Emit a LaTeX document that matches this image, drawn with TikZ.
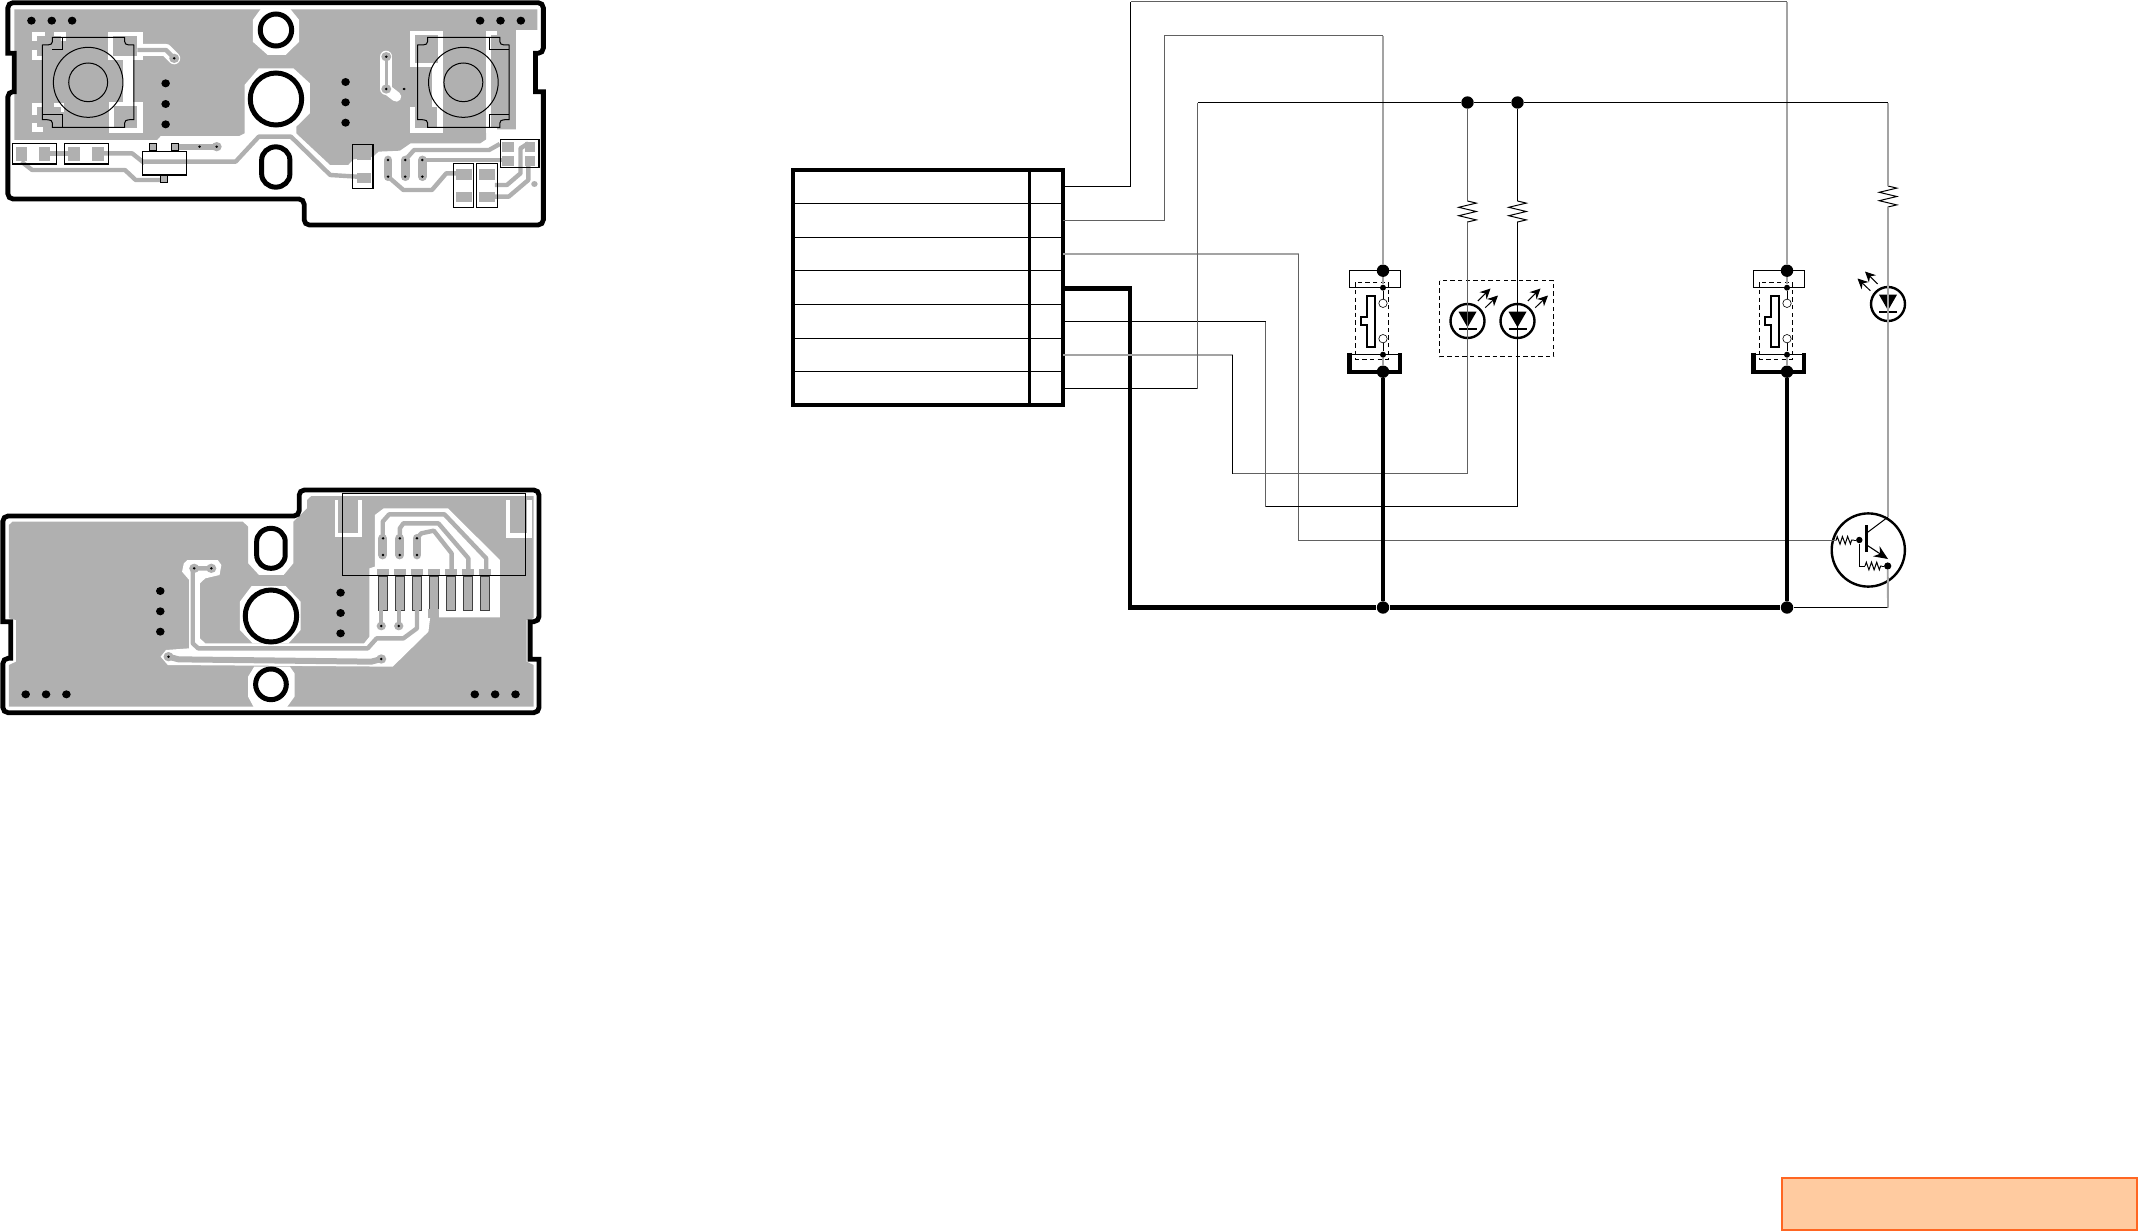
\documentclass[tikz,border=0pt]{standalone}
\usetikzlibrary{arrows.meta,decorations.pathmorphing}
\definecolor{pcbgray}{HTML}{B0B0B0}
\definecolor{tagedge}{HTML}{FF6622}
\definecolor{tagfill}{HTML}{FFCBA0}
\tikzset{
	wire/.style={line width=.5pt},
	midwire/.style={line width=.55pt,draw=black!62},
	palewire/.style={line width=.95pt,draw=black!36},
	heavywire/.style={line width=2.3pt},
	bigdot/.style={circle,fill,inner sep=0pt,minimum size=6.2pt},
	smalldot/.style={circle,fill,inner sep=0pt,minimum size=3pt},
	opendot/.style={circle,draw,fill=white,line width=.3pt,inner sep=0pt,minimum size=4.2pt},
	resist/.style={decorate,decoration={zigzag,amplitude=4.4pt,segment length=4.2pt}},
	tinyresist/.style={decorate,decoration={zigzag,amplitude=1.9pt,segment length=2.6pt}},
	dashbox/.style={line width=.4pt,dash pattern=on 2.2pt off 1.6pt},
	lightrays/.style={line width=.5pt,-{Stealth[length=5.2pt,width=5pt]}},
	edgeline/.style={line width=2.4pt,rounded corners=2.6pt},
	ringline/.style={line width=2.5pt},
	trace/.style={draw=pcbgray,line width=2.2pt,line join=round},
	capsule/.style={draw=pcbgray,line width=4.4pt,line cap=round},
	halo/.style={draw=white,line width=6pt,line join=round,line cap=round},
	partbox/.style={line width=.6pt},
	pinbox/.style={line width=.5pt,draw=black!75,fill=pcbgray},
	slideswitch/.pic={
		\draw[line width=.4pt] (-33.7,0) rectangle (17,17);
		\draw[dashbox] (-27.3,11.6) rectangle (5.3,88.6);
		\node (-top) at (0,0) [bigdot]{};
		\node (-upper) at (0,17) [smalldot]{};
		\node (-lower) at (0,84) [smalldot]{};
		\node (-openup) at (0,32.6) [opendot]{};
		\node (-opendown) at (0,68) [opendot]{};
		\draw[wire] (-upper) -- (-openup);
		\draw[wire] (-opendown) -- (-lower);
		\draw[line width=1.1pt,fill=white] (-16.3,25) -- (-8,25) -- (-8,76.3) -- (-16.3,76.3) -- (-16.3,54.6) -- (-22.3,54.6) -- (-22.3,46.3) -- (-16.3,46.3) -- cycle;
		\draw[line width=.4pt] (-33.7,84) -- (17,84);
		\draw[line width=2.2pt] (-33.7,82) -- (-33.7,101.3) -- (17,101.3) -- (17,82);
		\node (-base) at (0,101) [bigdot]{};
	},
	lampsym/.pic={
		\draw[line width=1.2pt] (0,0) circle (17);
		\fill (-9,-9.3) -- (9,-9.3) -- (0,6.3) -- cycle;
		\draw[line width=1pt] (-9,8.3) -- (9,8.3);
		\draw[lightrays] (10.3,-20) -- (23,-32.5);
		\draw[lightrays] (17.7,-13.3) -- (30.5,-25.5);
	},
	tactsym/.pic={
		\draw[line width=.5pt] (-100,-135) -- (102,-135) .. controls (102,-112) .. (128,-112) -- (128,112) .. controls (102,112) .. (102,135) -- (-100,135) .. controls (-100,112) .. (-128,112) -- (-128,-112) .. controls (-100,-112) .. (-100,-135) -- cycle;
		\draw[line width=.5pt] (0,0) ellipse (97.5 and 105);
		\draw[line width=.5pt] (0,0) ellipse (54.5 and 58);
	}
}
\begin{document}
\begin{tikzpicture}[x=0.5pt,y=-0.5pt]
	\useasboundingbox (0,0) rectangle (2138,1231);

	% upper board
	\begin{scope}[xscale=.357,yscale=1/3]
		\fill[pcbgray] (40,28) -- (1505,28) -- (1505,90) -- (1445,90) -- (1445,388) -- (1362,388) -- (1362,418) -- (1345,430) -- (1150,430) -- (1120,452) -- (1060,455) -- (1045,470) -- (990,478) -- (975,495) -- (925,495) -- (830,400) -- (685,400) -- (670,408) -- (450,408) -- (440,420) -- (40,420) -- cycle;
		\fill[white] (735,20) -- (808,20) -- (838,60) -- (838,125) -- (800,165) -- (750,165) -- (708,125) -- (708,60) -- cycle;
		\fill[white] (725,205) -- (822,205) -- (868,250) -- (868,340) -- (830,380) -- (830,402) -- (685,402) -- (685,255) -- cycle;
		% left switch pads
		\foreach \xa/\ya/\xb/\yb in {90/95/125/122, 150/95/185/122, 90/150/118/180, 90/310/118/345, 90/370/120/395, 150/310/180/335, 303/95/400/180, 305/305/400/398, 345/170/372/320}{
			\fill[white] (\xa,\ya) rectangle (\xb,\yb);
		}
		\foreach \xa/\ya/\xb/\yb in {105/108/125/122, 150/108/170/122, 105/150/118/168, 105/322/118/345, 105/370/120/382, 150/322/170/335, 316/108/385/168, 318/318/385/385}{
			\fill[pcbgray] (\xa,\ya) rectangle (\xb,\yb);
		}
		\draw[halo] (400,150) -- (465,150) -- (488,175);
		\draw[trace] (385,150) -- (465,150) -- (488,175);
		\fill[pcbgray] (488,175) circle (14);
		% right switch pads
		\foreach \xa/\ya/\xb/\yb in {1148/92/1242/200, 1148/320/1240/398, 1210/190/1240/320, 1360/92/1374/398, 1374/92/1392/105, 1374/385/1392/398}{
			\fill[white] (\xa,\ya) rectangle (\xb,\yb);
		}
		\foreach \xa/\ya/\xb/\yb in {1162/105/1228/190, 1162/320/1225/385, 1374/105/1445/175, 1374/320/1445/385}{
			\fill[pcbgray] (\xa,\ya) rectangle (\xb,\yb);
		}
		\draw[halo] (1082,170) -- (1082,267);
		\draw[halo,line width=5pt] (1082,267) -- (1110,290);
		\draw[trace,line width=1.4pt] (1082,170) -- (1082,267);
		\draw[trace] (1132,267) -- (1190,267);
		\fill[pcbgray] (1082,170) circle (14);
		\fill[pcbgray] (1082,267) circle (14);
		\fill[pcbgray] (1132,267) circle (14);
		% traces below the pads
		\draw[trace] (400,485) -- (660,485) -- (725,410) -- (815,410) -- (925,525) -- (1000,530);
		\draw[trace] (140,460) -- (190,460);
		\draw[trace] (290,460) -- (370,460) -- (405,490);
		\draw[trace] (60,485) -- (90,510) -- (350,510) -- (380,540) -- (460,540);
		\draw[trace,line width=3pt] (500,440) -- (610,440);
		\fill[pcbgray] (607,440) circle (14);
		\draw[capsule] (1087,480) -- (1087,530);
		\draw[capsule] (1135,480) -- (1135,530);
		\draw[capsule] (1183,480) -- (1183,530);
		\draw[trace] (1135,480) -- (1160,450) -- (1370,450) -- (1400,432);
		\draw[trace] (1183,480) -- (1420,480);
		\draw[trace] (1087,530) -- (1130,570) -- (1210,570) -- (1250,520) -- (1300,520);
		\draw[trace] (1386,590) -- (1425,590) -- (1480,540) -- (1480,480);
		\draw[trace] (1386,555) -- (1420,555) -- (1458,520) -- (1458,445) -- (1480,430);
		\fill[pcbgray] (1497,552) circle (9);
		\foreach \xa/\ya/\xb/\yb in {45/440/75/482, 108/440/140/482, 190/440/225/482, 258/440/290/482, 1000/450/1040/480, 1000/518/1040/548, 1278/508/1322/540, 1278/575/1322/607, 1342/508/1386/540, 1342/575/1386/607, 1405/425/1440/455, 1405/468/1440/498, 1470/425/1500/455, 1470/468/1500/498}{
			\fill[pcbgray] (\xa,\ya) rectangle (\xb,\yb);
		}
		% part outlines
		\foreach \xa/\ya/\xb/\yb in {36/431/158/492, 181/431/303/492, 400/455/522/525, 988/433/1045/565, 1270/490/1326/622, 1334/490/1393/622, 1402/418/1510/502}{
			\draw[partbox] (\xa,\ya) rectangle (\xb,\yb);
		}
		\foreach \xa/\ya in {418/430, 480/430, 450/525}{
			\draw[partbox,fill=pcbgray] (\xa,\ya) rectangle +(20,22);
		}
		\pic[transform shape] at (247,247) {tactsym};
		\pic[transform shape] at (1298,247) {tactsym};
		\draw[line width=.5pt] (147,150) -- (175,150) -- (175,112);
		\draw[line width=.5pt] (120,345) -- (175,345) -- (175,382);
		\draw[line width=.5pt] (1372,112) -- (1372,150) -- (1425,150);
		\draw[line width=.5pt] (1372,382) -- (1372,345) -- (1425,345);
		% holes
		\foreach \x/\y in {88/62, 145/62, 202/62, 1345/62, 1402/62, 1459/62, 464/250, 464/312, 464/373, 968/246, 968/307, 968/368}{
			\fill (\x,\y) circle (12);
		}
		\foreach \x/\y in {488/175, 559/440, 607/440, 1082/170, 1082/267, 1132/267, 1087/480, 1087/530, 1135/480, 1135/530, 1183/480, 1183/530}{
			\fill (\x,\y) circle (4);
		}
		\draw[ringline] (773,90) ellipse (44 and 48);
		\draw[ringline] (773,297) ellipse (72 and 78);
		\draw[ringline] (733,480) arc (180:360:39.5) -- (812,522) arc (0:180:39.5) -- cycle;
		% outline
		\draw[edgeline] (22,8) -- (1522,8) -- (1522,160) [sharp corners] -- (1500,160) -- (1500,275) -- (1522,275) [rounded corners=2.6pt] -- (1522,675) -- (852,675) -- (852,597) -- (22,597) -- (22,275) [sharp corners] -- (40,275) -- (40,160) -- (22,160) [rounded corners=2.6pt] -- cycle;
	\end{scope}

	% lower board
	\begin{scope}[shift={(0,480)},xscale=.357,yscale=1/3]
		\fill[pcbgray] (25,135) -- (35,125) -- (680,125) -- (695,140) -- (695,250) -- (725,285) -- (795,285) -- (822,250) -- (822,125) -- (860,85) -- (860,60) -- (872,48) -- (1495,48) -- (1495,415) -- (1475,420) -- (1475,545) -- (1495,555) -- (1495,680) -- (25,680) -- (25,555) -- (45,545) -- (45,420) -- (25,415) -- cycle;
		\fill[white] (705,318) -- (800,318) -- (842,365) -- (842,450) -- (808,490) -- (708,490) -- (672,450) -- (672,365) -- cycle;
		\fill[white] (712,684) -- (695,650) -- (695,590) -- (712,560) -- (812,560) -- (825,580) -- (825,650) -- (802,684) -- cycle;
		\fill[white] (515,250) -- (525,240) -- (610,240) -- (620,255) -- (615,285) -- (575,295) -- (560,310) -- (560,475) -- (575,490) -- (1020,490) -- (1035,470) -- (1035,265) -- (1050,260) -- (1050,105) -- (1075,85) -- (1255,85) -- (1400,240) -- (1400,412) -- (1205,412) -- (1200,455) -- (1100,560) -- (470,555) -- (450,530) -- (465,510) -- (530,505) -- (530,300) -- (510,275) -- cycle;
		\fill[white] (938,60) rectangle (1015,170);
		\fill[white] (1418,60) rectangle (1490,175);
		\fill[pcbgray] (948,60) rectangle (1003,160);
		\fill[pcbgray] (1428,60) rectangle (1475,160);
		\draw[trace] (1072,175) -- (1072,125) -- (1090,103) -- (1245,103) -- (1362,235) -- (1362,270);
		\draw[trace] (1120,175) -- (1120,145) -- (1130,130) -- (1228,130) -- (1312,235) -- (1312,270);
		\draw[trace] (1168,175) -- (1180,160) -- (1215,152) -- (1265,220) -- (1265,270);
		\draw[capsule] (1072,175) -- (1072,225);
		\draw[capsule] (1120,175) -- (1120,225);
		\draw[capsule] (1168,175) -- (1168,225);
		\foreach \x in {1072, 1120, 1168, 1215, 1263, 1310, 1358}{
			\fill[pcbgray] (\x-17,268) rectangle (\x+17,288);
			\draw[pinbox] (\x-13,288) rectangle (\x+13,390);
		}
		\draw[trace] (1068,385) -- (1068,438);
		\draw[trace] (1117,385) -- (1117,438);
		\fill[pcbgray] (1068,438) circle (13);
		\fill[pcbgray] (1117,438) circle (13);
		\fill[pcbgray] (1200,388) rectangle (1230,414);
		\draw[trace] (1168,390) -- (1168,445) -- (1130,475) -- (1055,475) -- (1030,505) -- (555,505) -- (540,490) -- (540,265) -- (592,265);
		\fill[pcbgray] (544,265) circle (14);
		\fill[pcbgray] (592,265) circle (14);
		\draw[trace,line width=3pt] (472,530) -- (500,538) -- (1040,545) -- (1068,537);
		\fill[pcbgray] (472,530) circle (14);
		\fill[pcbgray] (1068,537) circle (14);
		\draw[partbox] (960,40) rectangle (1472,287);
		% holes
		\foreach \x/\y in {449/333, 449/394, 449/455, 954/338, 954/399, 954/460, 72/643, 129/643, 186/643, 1330/643, 1387/643, 1444/643}{
			\fill (\x,\y) circle (12);
		}
		\foreach \x/\y in {544/265, 592/265, 472/530, 1068/537, 1073/175, 1073/225, 1120/175, 1120/225, 1168/175, 1168/225, 1068/438, 1117/438}{
			\fill (\x,\y) circle (4);
		}
		\draw[ringline] (759,613) ellipse (43 and 46);
		\draw[ringline] (759,408) ellipse (72 and 78);
		\draw[ringline] (719,185) arc (180:360:40) -- (799,225) arc (0:180:40) -- cycle;
		% outline
		\draw[edgeline] (8,108) -- (838,108) -- (838,30) -- (1510,30) -- (1510,425) [sharp corners] -- (1485,425) -- (1485,538) -- (1510,538) [rounded corners=2.6pt] -- (1510,698) -- (8,698) -- (8,535) [sharp corners] -- (30,535) -- (30,425) -- (8,425) [rounded corners=2.6pt] -- cycle;
	\end{scope}

	% connector block
	\draw[line width=2pt] (793,170) rectangle (1063,405);
	\draw[line width=1.3pt] (1029.5,170) -- (1029.5,405);
	\foreach \y in {203.5, 237.5, 270.5, 304.5, 338.5, 371.5}{
		\draw[line width=.5pt] (793,\y) -- (1063,\y);
	}
	\foreach \n/\y in {1/186.5, 2/220.5, 3/254, 4/288.5, 5/321.5, 6/355, 7/388.5}{
		\coordinate (pin\n) at (1063,\y);
	}

	% bends
	\foreach \name/\x/\y in {upa/1130.5/186.5, upb/1130.5/1.5, upc/1787/1.5, nxa/1164.5/220.5, nxb/1164.5/35.5, nxc/1383/35.5, gra/1298.5/254, grb/1298.5/540.5, ora/1265.5/321.5, orb/1265.5/506.5, orc/1517.5/506.5, ina/1232.5/355, inb/1232.5/473.5, inc/1467.5/473.5, ria/1197.5/388.5, rib/1197.5/102.5, hva/1130/288.5, hvb/1130/607.5}{
		\coordinate (\name) at (\x,\y);
	}

	% junctions
	\node (joina) at (1467.5,102.5) [bigdot]{};
	\node (joinb) at (1517.5,102.5) [bigdot]{};
	\node (groundb) at (1383,607.5) [bigdot]{};
	\node (groundc) at (1787,607.5) [bigdot]{};
	\coordinate (rail) at (1888,102.5);
	\coordinate (retn) at (1888,607.5);

	% switches, lamps
	\pic (swa) at (1383,270.7) {slideswitch};
	\pic (swb) at (1787,270.7) {slideswitch};
	\pic at (1467.5,321) {lampsym};
	\pic at (1517.5,321) {lampsym};
	\pic[xscale=-1] at (1888,304) {lampsym};
	\draw[dashbox] (1439.5,280.5) rectangle (1553.5,356.5);

	% resistors
	\coordinate (resaup) at (1467.5,201);
	\coordinate (resalow) at (1467.5,222);
	\coordinate (resbup) at (1517.5,201);
	\coordinate (resblow) at (1517.5,222);
	\coordinate (rescup) at (1888,186);
	\coordinate (resclow) at (1888,207);
	\draw[wire,resist] (resaup) -- (resalow);
	\draw[wire,resist] (resbup) -- (resblow);
	\draw[wire,resist] (rescup) -- (resclow);

	% transistor
	\node (photo) at (1868.3,550) [circle,draw,line width=1.2pt,inner sep=0pt,minimum size=36.6pt]{};
	\node (basedot) at (1859.3,540) [smalldot,minimum size=3.2pt]{};
	\node (emitdot) at (1887.7,566) [smalldot,minimum size=3.6pt]{};
	\coordinate (basein) at (1836,540.5);
	\coordinate (basemid) at (1854,540);
	\draw[line width=1.3pt] (1866.7,525) -- (1866.7,552);
	\draw[wire] (1866.7,533) -- (1888,517);
	\draw[line width=.55pt,-{Stealth[length=7pt,width=6pt]}] (1866.7,545) -- (1888,559);
	\draw[wire] (basemid) -- (basedot);
	\draw[wire,tinyresist] (basein) -- (basemid);
	\draw[wire] (basedot) |- (1865,566);
	\draw[wire,tinyresist] (1865,566) -- (1882,566);
	\draw[wire] (1882,566) -- (emitdot);

	% wires
	\draw[wire] (pin1) -- (upa) -- (upb);
	\draw[midwire] (upb) -- (upc);
	\draw[palewire] (upc) -- (swb-top);
	\draw[midwire] (pin2) -- (nxa) -- (nxb) -- (nxc);
	\draw[palewire] (nxc) -- (swa-top);
	\draw[palewire] (pin3) -- (gra);
	\draw[midwire] (gra) -- (grb) -- (basein);
	\draw[heavywire] (pin4) -- (hva) -- (hvb) -- (groundb) -- (groundc);
	\draw[wire] (groundc) -- (retn);
	\draw[palewire] (retn) -- (emitdot);
	\draw[wire] (pin5) -- (ora);
	\draw[midwire] (ora) -- (orb);
	\draw[wire] (orb) -- (orc) -- (resblow);
	\draw[palewire] (pin6) -- (ina);
	\draw[wire] (ina) -- (inb);
	\draw[midwire] (inb) -- (inc) -- (resalow);
	\draw[wire] (pin7) -- (ria);
	\draw[midwire] (ria) -- (rib);
	\draw[wire] (rib) -- (joina) -- (joinb) -- (rail);
	\draw[palewire] (rail) -- (rescup);
	\draw[palewire] (resclow) -- (1888,517);
	\draw[midwire] (joina) -- (resaup);
	\draw[wire] (joinb) -- (resbup);
	\draw[palewire] (swa-top) -- (swa-upper);
	\draw[palewire] (swb-top) -- (swb-upper);
	\draw[palewire] (swa-lower) -- (swa-base);
	\draw[palewire] (swb-lower) -- (swb-base);
	\draw[heavywire] (swa-base) -- (groundb);
	\draw[heavywire] (swb-base) -- (groundc);

	% tag
	\draw[draw=tagedge,fill=tagfill,line width=1pt] (1782,1178) rectangle (2137,1230);
\end{tikzpicture}
\end{document}
